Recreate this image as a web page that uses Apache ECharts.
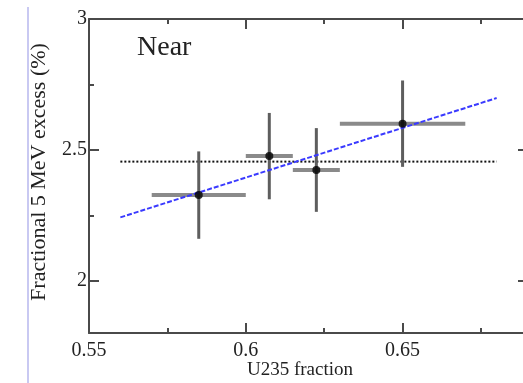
<!DOCTYPE html>
<html>
<head>
<meta charset="utf-8">
<script src="https://cdn.jsdelivr.net/npm/echarts@6/dist/echarts.min.js"></script>
<style>
  html, body { margin: 0; padding: 0; background: #fff; }
  #chart { width: 523px; height: 383px; }
</style>
</head>
<body>
<div id="chart"></div>
<script>
// U235 fraction bins and the measured excess in each bin
const binCenter = [0.585, 0.6075, 0.6225, 0.65];
const binLow    = [0.570, 0.600, 0.615, 0.630];
const binHigh   = [0.600, 0.615, 0.630, 0.670];
const excess    = [2.327, 2.476, 2.423, 2.600];
const excessErr = [0.167, 0.165, 0.160, 0.165];

// Linear fit and flat (constant) fit
const fitX  = [0.56, 0.68];
const fitY  = [2.242, 2.698];
const flatX = [0.56, 0.68];
const flatY = [2.455, 2.455];

// Axis ticks
const xMajor = [0.55, 0.6, 0.65];
const xMinor = [0.575, 0.625, 0.675];
const yMajor = [2, 2.5, 3];
const yMinor = [2.25, 2.75];

const FONT = '"Liberation Serif", "DejaVu Serif", serif';
const AXIS_COLOR = '#4a4a4a';
const TEXT_COLOR = '#222';

// the frame runs slightly past the right edge of the canvas
const gridRect = { left: 89, top: 19, width: 439, height: 314, outerBoundsMode: 'none', containLabel: false };

function xAxisDef(gridIndex, pos, ticks, len, labels, showLine) {
  return {
    type: 'value', gridIndex, position: pos, min: 0.55, max: 0.69,
    axisLine: { show: showLine, onZero: false, lineStyle: { color: AXIS_COLOR, width: 2 } },
    axisTick: { show: true, inside: true, length: len, customValues: ticks,
                lineStyle: { color: AXIS_COLOR, width: 2 } },
    axisLabel: labels ? { show: true, customValues: ticks, margin: 8,
                          color: TEXT_COLOR, fontFamily: FONT, fontSize: 20,
                          formatter: v => String(+v.toFixed(3)) } : { show: false },
    splitLine: { show: false }
  };
}
function yAxisDef(gridIndex, pos, ticks, len, labels, showLine) {
  return {
    type: 'value', gridIndex, position: pos, min: 1.8, max: 3,
    axisLine: { show: showLine, onZero: false, lineStyle: { color: AXIS_COLOR, width: 2 } },
    axisTick: { show: true, inside: true, length: len, customValues: ticks,
                lineStyle: { color: AXIS_COLOR, width: 2 } },
    axisLabel: labels ? { show: true, customValues: ticks, margin: 2,
                          padding: [6, 0, 0, 0],
                          color: TEXT_COLOR, fontFamily: FONT, fontSize: 20,
                          formatter: v => String(+v.toFixed(2)) } : { show: false },
    splitLine: { show: false }
  };
}

const chart = echarts.init(document.getElementById('chart'), null, { renderer: 'canvas' });

const points = binCenter.map((x, i) => [x, excess[i], binLow[i], binHigh[i], excessErr[i]]);

chart.setOption({
  animation: false,
  backgroundColor: '#fff',
  grid: [
    Object.assign({}, gridRect),
    Object.assign({}, gridRect)
  ],
  xAxis: [
    xAxisDef(0, 'bottom', xMajor, 10, true, true),
    xAxisDef(0, 'top', xMajor, 10, false, true),
    xAxisDef(1, 'bottom', xMinor, 5, false, false),
    xAxisDef(1, 'top', xMinor, 5, false, false)
  ],
  yAxis: [
    yAxisDef(0, 'left', yMajor, 10, true, true),
    yAxisDef(0, 'right', yMajor, 10, false, true),
    yAxisDef(1, 'left', yMinor, 5, false, false),
    yAxisDef(1, 'right', yMinor, 5, false, false)
  ],
  graphic: [
    { type: 'line', z: 100, shape: { x1: 28, y1: 7, x2: 28, y2: 383 },
      style: { stroke: '#c9c9f2', lineWidth: 2 } },
    { type: 'text', left: 137, top: 34, z: 100,
      style: { text: 'Near', font: '28px ' + FONT, fill: TEXT_COLOR } },
    { type: 'text', x: 300, y: 370, z: 100,
      style: { text: 'U235 fraction', font: '19px ' + FONT, fill: TEXT_COLOR,
               align: 'center', verticalAlign: 'middle' } },
    { type: 'text', x: 39, y: 172, rotation: Math.PI / 2, z: 100,
      style: { text: 'Fractional 5 MeV excess (%)', font: '22px ' + FONT, fill: TEXT_COLOR,
               align: 'center', verticalAlign: 'middle' } }
  ],
  series: [
    {
      name: 'flat', type: 'line', xAxisIndex: 0, yAxisIndex: 0,
      data: flatX.map((x, i) => [x, flatY[i]]),
      symbol: 'none', z: 2,
      lineStyle: { color: '#111', width: 2, type: [2, 2] }
    },
    {
      name: 'fit', type: 'line', xAxisIndex: 0, yAxisIndex: 0,
      data: fitX.map((x, i) => [x, fitY[i]]),
      symbol: 'none', z: 4,
      lineStyle: { color: '#3a3aff', width: 2, type: [5, 2] }
    },
    {
      name: 'errors', type: 'custom', xAxisIndex: 0, yAxisIndex: 0, z: 3,
      data: points,
      renderItem: function (params, api) {
        const x = api.value(0), y = api.value(1);
        const lo = api.coord([api.value(2), y]);
        const hi = api.coord([api.value(3), y]);
        const top = api.coord([x, y + api.value(4)]);
        const bot = api.coord([x, y - api.value(4)]);
        return {
          type: 'group',
          children: [
            { type: 'line', shape: { x1: lo[0], y1: lo[1], x2: hi[0], y2: hi[1] },
              style: { stroke: '#8a8a8a', lineWidth: 4 } },
            { type: 'line', shape: { x1: top[0], y1: top[1], x2: bot[0], y2: bot[1] },
              style: { stroke: '#5e5e5e', lineWidth: 3 } }
          ]
        };
      }
    },
    {
      name: 'points', type: 'scatter', xAxisIndex: 0, yAxisIndex: 0, z: 5,
      data: binCenter.map((x, i) => [x, excess[i]]),
      symbol: 'circle', symbolSize: 8,
      itemStyle: { color: '#000' }
    }
  ]
});
</script>
</body>
</html>
